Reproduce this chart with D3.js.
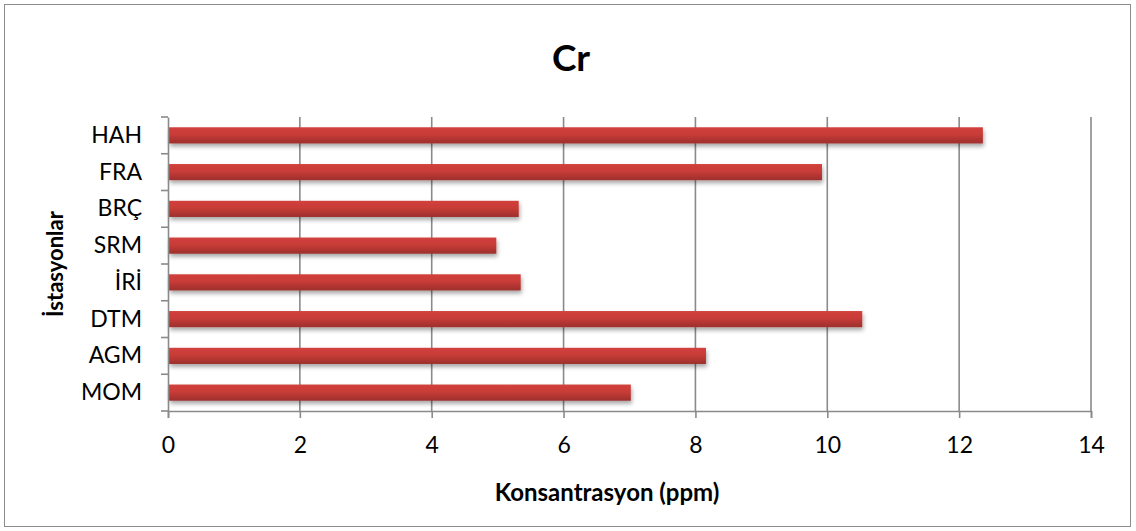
<!DOCTYPE html>
<html><head><meta charset="utf-8">
<script src="https://cdn.jsdelivr.net/npm/d3@7/dist/d3.min.js"></script>
<style>body{margin:0;background:#fff}svg{display:block}text{font-family:Lato,"Open Sans",sans-serif}</style>
</head><body>
<script>
const categories = ["MOM","AGM","DTM","İRİ","SRM","BRÇ","FRA","HAH"];
const values = [7.02, 8.16, 10.53, 5.35, 4.98, 5.32, 9.92, 12.36];
const xTicks = [0,2,4,6,8,10,12,14];
const title = "Cr";
const xTitle = "Konsantrasyon (ppm)";
const yTitle = "İstasyonlar";

const W = 1136, H = 531;
const svg = d3.select("body").append("svg").attr("width", W).attr("height", H);
const defs = svg.append("defs");
const grad = defs.append("linearGradient").attr("id","bg").attr("x1",0).attr("y1",0).attr("x2",0).attr("y2",1);
grad.append("stop").attr("offset","0%").attr("stop-color","#d2403c");
grad.append("stop").attr("offset","45%").attr("stop-color","#c83c38");
grad.append("stop").attr("offset","100%").attr("stop-color","#9c2f2c");
const f = defs.append("filter").attr("id","sh").attr("x","-5%").attr("y","-50%").attr("width","110%").attr("height","250%");
f.append("feDropShadow").attr("dx",1).attr("dy",3).attr("stdDeviation",2).attr("flood-color","#000").attr("flood-opacity",0.35);

svg.append("rect").attr("x",4.5).attr("y",4.5).attr("width",1126).attr("height",522)
  .attr("fill","#fff").attr("stroke","#8c8c8c").attr("stroke-width",1);

const x = d3.scaleLinear().domain([0,14]).range([168,1091]);
const y = d3.scaleBand().domain(categories.slice().reverse()).range([117,411]).paddingInner(0.56).paddingOuter(0.28);
const yb = d3.scaleBand().domain(categories.slice().reverse()).range([117,411]);

// gridlines
svg.append("g").selectAll("line").data(xTicks.filter(d=>d>0)).join("line")
  .attr("x1",d=>x(d)).attr("x2",d=>x(d)).attr("y1",117).attr("y2",411)
  .attr("stroke","#8a8a8a").attr("stroke-width",1.6);

// bars
svg.append("g").selectAll("rect").data(categories).join("rect")
  .attr("x",x(0)+1).attr("y",(d)=>y(d)).attr("height",y.bandwidth())
  .attr("width",(d,i)=>x(values[i])-x(0)-1)
  .attr("fill","url(#bg)").attr("filter","url(#sh)");

// x axis
const xa = svg.append("g").attr("transform","translate(0,411)")
  .call(d3.axisBottom(x).tickValues(xTicks).tickSize(7).tickPadding(19).tickFormat(d3.format("d")));
xa.select(".domain").attr("stroke","#8a8a8a").attr("stroke-width",1.6);
xa.selectAll(".tick line").attr("stroke","#8a8a8a").attr("stroke-width",1.6);
xa.selectAll("text").attr("font-size",23).attr("fill","#000").attr("font-family","Lato");

// y axis
const ya = svg.append("g").attr("transform","translate(168,0)")
  .call(d3.axisLeft(yb).tickSize(0).tickPadding(26));
ya.select(".domain").attr("stroke","#8a8a8a").attr("stroke-width",1.6);
ya.selectAll("text").attr("font-size",23).attr("fill","#000").attr("font-family","Lato");
const bounds = [117].concat(yb.domain().map(d=>yb(d)+yb.bandwidth()));
svg.append("g").selectAll("line").data(bounds).join("line")
  .attr("x1",161).attr("x2",168).attr("y1",d=>d).attr("y2",d=>d)
  .attr("stroke","#8a8a8a").attr("stroke-width",1.6);

svg.append("text").attr("x",571).attr("y",71).attr("text-anchor","middle")
  .attr("font-size",37).attr("font-weight","bold").text(title);
svg.append("text").attr("x",607).attr("y",501).attr("text-anchor","middle")
  .attr("font-size",24).attr("font-weight","bold").text(xTitle);
svg.append("text").attr("transform","translate(63,264) rotate(-90)").attr("text-anchor","middle")
  .attr("font-size",22).attr("font-weight","bold").text(yTitle);
</script>
</body></html>
